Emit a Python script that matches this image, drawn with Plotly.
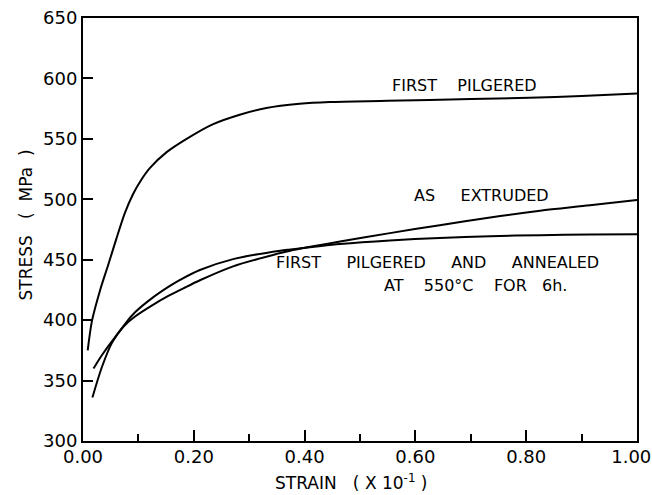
import plotly.graph_objects as go

# ---- data ----
first_pilgered_x = [0.0085, 0.016, 0.031, 0.045, 0.060, 0.075, 0.090, 0.105, 0.121, 0.151,
                    0.187, 0.234, 0.283, 0.331, 0.391, 0.445, 0.55, 0.70, 0.806, 0.90, 1.00]
first_pilgered_y = [375, 399, 425, 445, 467, 488, 504, 516, 526, 539,
                    550, 562, 570, 575.5, 579, 580.5, 581.5, 583, 584, 585.5, 587.5]

as_extruded_x = [0.019, 0.034, 0.058, 0.076, 0.094, 0.124, 0.154, 0.184, 0.211, 0.271,
                 0.356, 0.374, 0.464, 0.554, 0.644, 0.735, 0.825, 0.915, 1.00]
as_extruded_y = [360, 371, 386, 396, 403, 412, 420, 427, 433, 444.5,
                 455.5, 457.5, 465, 472, 478.6, 485, 490.5, 495, 499.5]

annealed_x = [0.017, 0.034, 0.052, 0.076, 0.094, 0.124, 0.154, 0.172, 0.211, 0.271,
              0.356, 0.374, 0.464, 0.554, 0.644, 0.735, 0.825, 0.915, 1.00]
annealed_y = [336, 361, 381, 397, 406.5, 418, 427.5, 432.5, 441.5, 450.5,
              457.5, 458.5, 463, 466, 468, 469.5, 470.3, 470.8, 471]

NB = "\u00a0"
x_tick_vals = [0.0, 0.2, 0.4, 0.6, 0.8, 1.0]
x_tick_text = ["0.00", "0.20", "0.40", "0.60", "0.80", "1.00" + NB * 2]
x_minor_vals = [0.1, 0.3, 0.5, 0.7, 0.9]
y_tick_vals = [300, 350, 400, 450, 500, 550, 600, 650]
y_tick_text = ["300", "350", "400", "450", "500", "550", "600", "650"]

label_first_pilgered = "FIRST" + NB * 4 + "PILGERED"
label_as_extruded = "AS" + NB * 5 + "EXTRUDED"
label_annealed_1 = "FIRST" + NB * 5 + "PILGERED" + NB * 5 + "AND" + NB * 5 + "ANNEALED"
label_annealed_2 = "AT" + NB * 4 + "550°C" + NB * 4 + "FOR" + NB * 3 + "6h."
x_title = "STRAIN" + NB * 3 + "(" + NB + "X" + NB + "10<sup>-1</sup>" + NB + ")"
y_title = "STRESS" + NB * 3 + "(" + NB * 2 + "MPa" + NB * 2 + ")"

FONT = "DejaVu Sans"

fig = go.Figure()
for xs, ys in [(first_pilgered_x, first_pilgered_y),
               (as_extruded_x, as_extruded_y),
               (annealed_x, annealed_y)]:
    fig.add_trace(go.Scatter(x=xs, y=ys, mode="lines",
                             line=dict(color="black", width=2, shape="spline", smoothing=0.8),
                             showlegend=False, hoverinfo="skip"))

ann_font = dict(family=FONT, size=16, color="black")
annotations = [
    dict(x=0.688, y=594.5, text=label_first_pilgered),
    dict(x=0.719, y=503.5, text=label_as_extruded),
    dict(x=0.64, y=448, text=label_annealed_1),
    dict(x=0.708, y=429, text=label_annealed_2),
]
for a in annotations:
    fig.add_annotation(xref="x", yref="y", showarrow=False, xanchor="center",
                       yanchor="middle", font=ann_font, **a)

title_font = dict(family=FONT, size=17, color="black")
fig.add_annotation(xref="paper", yref="paper", x=0.4847, y=-0.098, text=x_title,
                   showarrow=False, xanchor="center", yanchor="middle", font=title_font)
fig.add_annotation(xref="paper", yref="paper", x=-0.1029, y=0.512, text=y_title,
                   showarrow=False, xanchor="center", yanchor="middle", textangle=-90,
                   font=title_font)

axis_common = dict(showline=True, linecolor="black", linewidth=2, mirror=True,
                   ticks="inside", tickcolor="black", tickwidth=2, showgrid=False,
                   zeroline=False, ticklabeloverflow="allow", automargin=False,
                   tickfont=dict(family=FONT, size=18, color="black"))

fig.update_xaxes(range=[0, 1], tickvals=x_tick_vals, ticktext=x_tick_text, ticklen=11,
                 ticklabelstandoff=-2,
                 minor=dict(tickvals=x_minor_vals, ticks="inside", ticklen=7,
                            tickwidth=2, tickcolor="black", showgrid=False),
                 **axis_common)
fig.update_yaxes(range=[300, 650], tickvals=y_tick_vals, ticktext=y_tick_text, ticklen=10,
                 **axis_common)

fig.update_layout(width=652, height=495, margin=dict(l=83, r=15, t=18, b=54, autoexpand=False),
                  plot_bgcolor="white", paper_bgcolor="white")

fig.write_html("out.html", config={"displayModeBar": False},
               post_script="document.body.style.margin='0';"
                           "document.documentElement.style.overflow='hidden';")
